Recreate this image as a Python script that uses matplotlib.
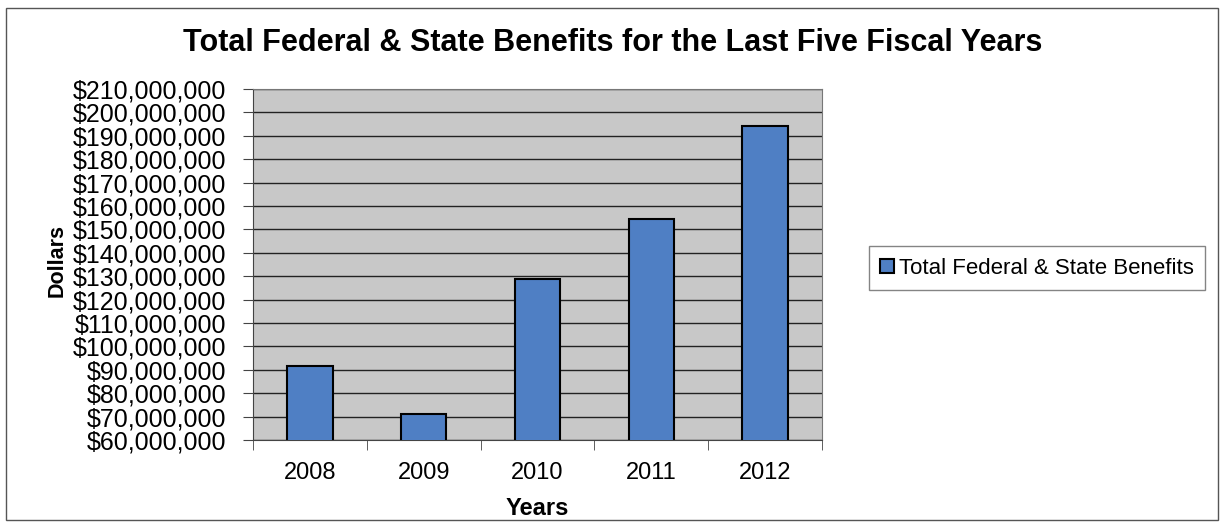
import numpy as np
import matplotlib
matplotlib.use("Agg")
import matplotlib.pyplot as plt
from matplotlib.patches import Rectangle

years = ["2008", "2009", "2010", "2011", "2012"]
benefits = [91700000, 70900000, 128600000, 154600000, 194300000]
series_name = "Total Federal & State Benefits"
y_ticks = list(range(60000000, 210000001, 10000000))

plt.rcParams['font.family'] = ['Liberation Sans', 'DejaVu Sans']

fig = plt.figure(figsize=(12.25, 5.26), dpi=100)
fig.patch.set_facecolor("white")
# outer chart border
fig.patches.append(Rectangle((6 / 1225, 6 / 526), 1212 / 1225, 512 / 526,
                             transform=fig.transFigure, fill=False,
                             edgecolor="#555555", linewidth=1.0))

ax = fig.add_axes([253 / 1225, 1 - 440 / 526, 569 / 1225, 351 / 526])
ax.set_facecolor("#c8c8c8")

x = np.arange(len(years))
ax.bar(x, benefits, width=0.4, color="#4f7fc4", edgecolor="black",
       linewidth=1.5, zorder=3, label=series_name)

ax.set_xlim(-0.5, len(years) - 0.5)
ax.set_ylim(y_ticks[0], y_ticks[-1])
ax.set_yticks(y_ticks)
ax.set_yticklabels(["${:,}".format(v) for v in y_ticks], fontsize=18)
ax.yaxis.grid(True, color="#222222", linewidth=1.0, zorder=1)
ax.set_axisbelow(True)

ax.set_xticks(x)
ax.set_xticklabels(years, fontsize=17)
ax.tick_params(axis="x", length=0, pad=16)
ax.set_xticks(np.arange(-0.5, len(years)), minor=True)
ax.tick_params(axis="x", which="minor", length=7, color="#444444")
ax.tick_params(axis="y", length=7, color="#444444", pad=12)

for s in ["top", "right"]:
    ax.spines[s].set_color("#777777")
for s in ["left", "bottom"]:
    ax.spines[s].set_color("#444444")

ax.set_xlabel("Years", fontsize=17, fontweight="bold", labelpad=9)
ax.set_ylabel("Dollars", fontsize=15.5, fontweight="bold")
ax.yaxis.set_label_coords((68 - 253) / 569, (440 - 260) / 351)

fig.text(613 / 1225, 1 - 43 / 526,
         "Total Federal & State Benefits for the Last Five Fiscal Years",
         ha="center", va="center", fontsize=22, fontweight="bold")

leg = fig.legend(loc="center left", bbox_to_anchor=(858 / 1225, 1 - 268 / 526),
                 fontsize=16, frameon=True, fancybox=False, handlelength=0.6,
                 handleheight=0.6, handletextpad=0.25, borderpad=0.5)
leg.get_frame().set_edgecolor("#666666")
leg.get_frame().set_linewidth(1.0)

fig.savefig("out.png", dpi=100)
